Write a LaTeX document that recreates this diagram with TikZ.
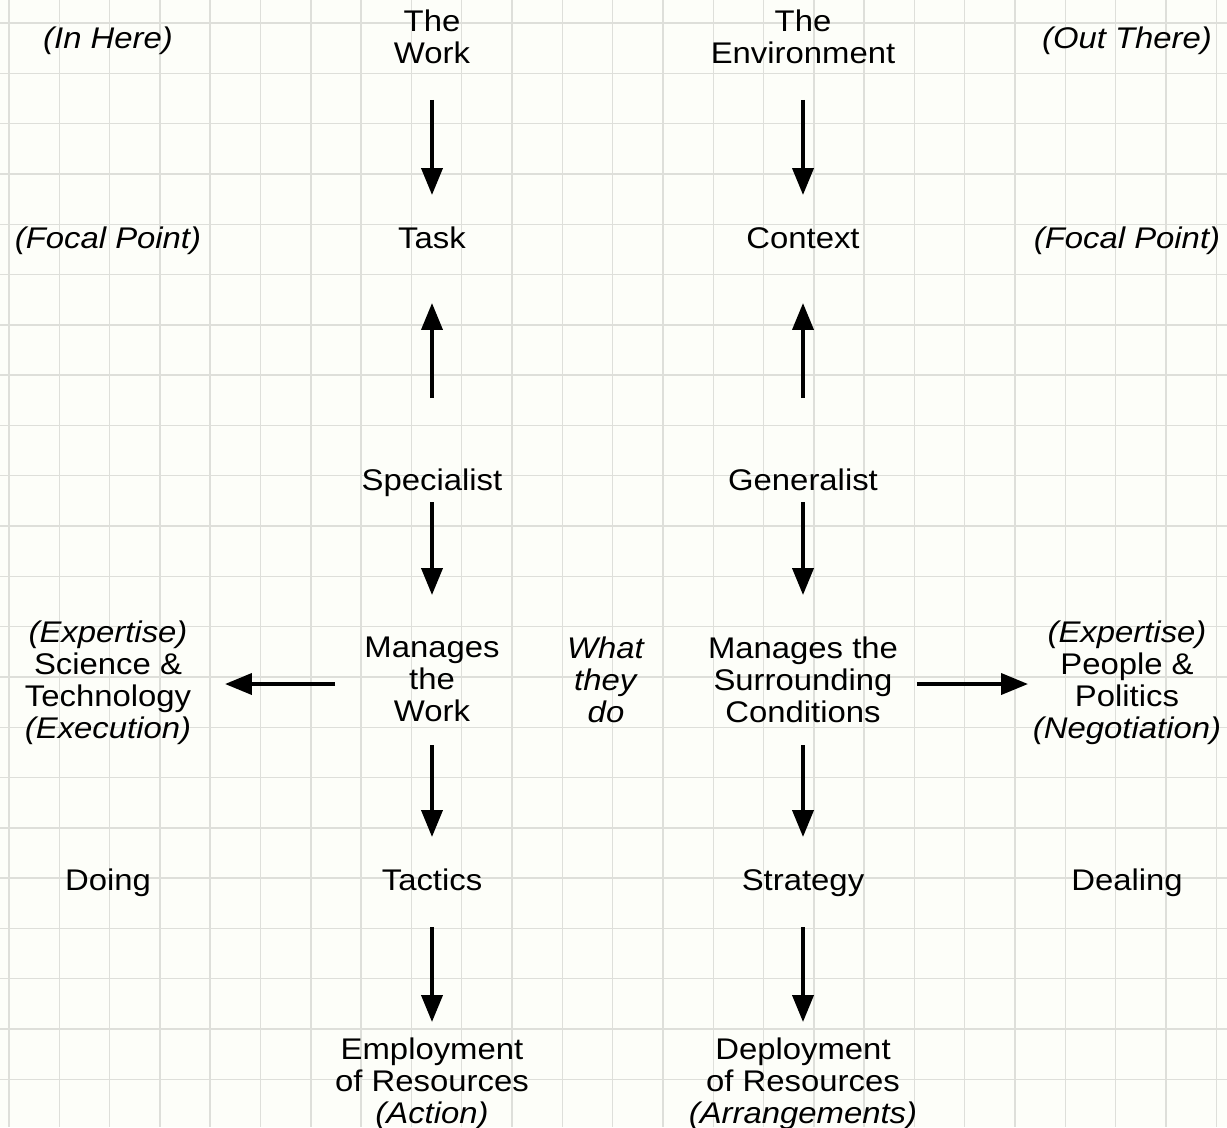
\documentclass[tikz,border=0pt]{standalone}
\usepackage{fontspec}
\setmainfont{Liberation Sans}[FakeStretch=1.1]
\usetikzlibrary{arrows.meta}
\definecolor{paper}{RGB}{253,254,249}
\definecolor{gridline}{RGB}{222,223,218}
\begin{document}
\begin{tikzpicture}[x=0.02cm,y=-0.02cm,
  lbl/.style={align=center,inner sep=0,font=\fontsize{17}{18.2}\selectfont,
    execute at begin node=\strut,execute at end node=\strut},
  arr/.style={line width=2.2pt,-{Triangle[length=0.54cm,width=0.42cm]}}]

\useasboundingbox (0,0) rectangle (1227,1127);
\fill[paper] (0,0) rectangle (1227,1127);
\foreach \i in {0,...,24} \draw[gridline,line width=0.8pt] (9+50.3*\i,0) -- (9+50.3*\i,1127);
\foreach \j in {0,...,21} \draw[gridline,line width=0.8pt] (0,23+50.3*\j) -- (1227,23+50.3*\j);

\node[lbl] (inhere) at (108,42) {\textit{(In Here)}};
\node[lbl] (work) at (432,41) {The\\Work};
\node[lbl] (env) at (803,41) {The\\Environment};
\node[lbl] (outthere) at (1127,42) {\textit{(Out There)}};

\node[lbl] (focl) at (108,242) {\textit{(Focal Point)}};
\node[lbl] (task) at (432,242) {Task};
\node[lbl] (context) at (803,242) {Context};
\node[lbl] (focr) at (1127,242) {\textit{(Focal Point)}};

\node[lbl] (spec) at (432,484) {Specialist};
\node[lbl] (gen) at (803,484) {Generalist};

\node[lbl] (science) at (108,684) {\textit{(Expertise)}\\Science \&\\Technology\\\textit{(Execution)}};
\node[lbl] (mwork) at (432,684) {Manages\\the\\Work};
\node[lbl] (what) at (606,684) {\textit{What}\\\textit{they}\\\textit{do}};
\node[lbl] (mcond) at (803,684) {Manages the\\Surrounding\\Conditions};
\node[lbl] (people) at (1127,684) {\textit{(Expertise)}\\People \&\\Politics\\\textit{(Negotiation)}};

\node[lbl] (doing) at (108,884) {Doing};
\node[lbl] (tactics) at (432,884) {Tactics};
\node[lbl] (strategy) at (803,884) {Strategy};
\node[lbl] (dealing) at (1127,884) {Dealing};

\node[lbl] (employ) at (432,1085) {Employment\\of Resources\\\textit{(Action)}};
\node[lbl] (deploy) at (803,1085) {Deployment\\of Resources\\\textit{(Arrangements)}};

\draw[arr,shorten <=1.18cm,shorten >=0.94cm] (work.center) -- (task.center);
\draw[arr,shorten <=1.18cm,shorten >=0.94cm] (env.center) -- (context.center);
\draw[arr,shorten <=1.72cm,shorten >=1.22cm] (spec.center) -- (task.center);
\draw[arr,shorten <=1.72cm,shorten >=1.22cm] (gen.center) -- (context.center);
\draw[arr,shorten <=0.36cm,shorten >=1.78cm] (spec.center) -- (mwork.center);
\draw[arr,shorten <=0.36cm,shorten >=1.78cm] (gen.center) -- (mcond.center);
\draw[arr,shorten <=1.94cm,shorten >=2.34cm] (mwork.center) -- (science.center);
\draw[arr,shorten <=2.28cm,shorten >=1.98cm] (mcond.center) -- (people.center);
\draw[arr,shorten <=1.22cm,shorten >=0.94cm] (mwork.center) -- (tactics.center);
\draw[arr,shorten <=1.22cm,shorten >=0.94cm] (mcond.center) -- (strategy.center);
\draw[arr,shorten <=0.86cm,shorten >=1.26cm] (tactics.center) -- (employ.center);
\draw[arr,shorten <=0.86cm,shorten >=1.26cm] (strategy.center) -- (deploy.center);

\end{tikzpicture}
\end{document}
